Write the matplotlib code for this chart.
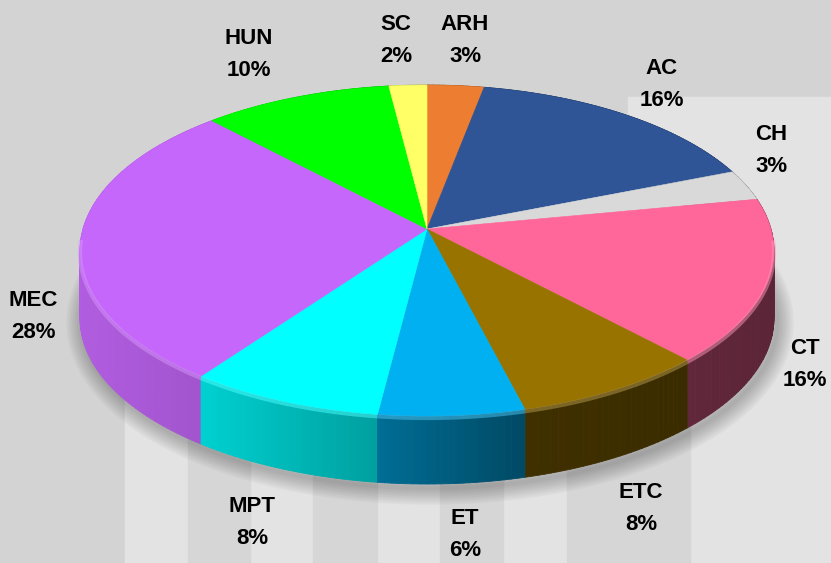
import numpy as np
import matplotlib
matplotlib.use("Agg")
import matplotlib.pyplot as plt
from matplotlib.patches import Polygon, Rectangle
from matplotlib.collections import PolyCollection
from matplotlib.colors import to_rgb

# data (clockwise from 12 o'clock)
labels = ["ARH", "AC", "CH", "CT", "ETC", "ET", "MPT", "MEC", "HUN", "SC"]
shares = [3, 16, 3, 16, 8, 6, 8, 28, 10, 2]
colors = ["#ed7d31", "#2f5597", "#d9d9d9", "#ff6699", "#997300",
          "#00b0f0", "#00ffff", "#c567fa", "#00ff00", "#ffff66"]

# where excel put the data labels (centre of the name line, pixels)
label_pos = [(465, 24), (662, 69), (771, 135), (805, 349), (641, 492),
             (465, 519), (252, 506), (33, 300), (249, 39), (396, 24)]

# perspective pie geometry (pixels)
CX, CY = 427, 229
A, B, K = 344, 162.7, 0.13
DEPTH = 68


def project(theta, dz=0.0):
    t = np.radians(theta)
    u, v = np.sin(t), np.cos(t)
    den = 1 + K * v
    return CX + A * u / den, CY - B * v / den + dz


fig = plt.figure(figsize=(8.31, 5.63), dpi=100)
ax = fig.add_axes([0, 0, 1, 1])
ax.set_xlim(0, 831)
ax.set_ylim(563, 0)
ax.axis("off")

# background picture: grey with lighter panels / stripes
ax.add_patch(Rectangle((0, 0), 831, 563, color="#d3d3d3", zorder=0))
ax.add_patch(Rectangle((628, 97), 203, 466, color="#e3e3e3", zorder=0))
for x0, x1 in [(125, 188), (250, 313), (377, 440), (503, 567)]:
    ax.add_patch(Rectangle((x0, 390), x1 - x0, 173, color="#e3e3e3", zorder=0))
for x0, x1 in [(188, 250), (313, 377), (440, 503), (567, 690)]:
    ax.add_patch(Rectangle((x0, 390), x1 - x0, 173, color="#d6d6d6", zorder=0))

# soft shadow under the pie
ring = np.linspace(0, 360, 361)
sx, sy = project(ring, DEPTH + 4)
for w in range(24, 0, -3):
    ax.add_patch(Polygon(np.column_stack([sx + 3, sy]), closed=True, facecolor="none",
                         edgecolor="black", lw=w, alpha=0.03, joinstyle="round", zorder=1))

# wedge angles
fracs = np.array(shares) / sum(shares)
ends = np.cumsum(fracs) * 360
starts = ends - fracs * 360

# side wall, thin strips shaded left (light) to right (dark)
strips, strip_cols, strip_depth = [], [], []
for s, e, c in zip(starts, ends, colors):
    n = max(int(e - s), 2)
    th = np.linspace(s, e, n + 1)
    xt, yt = project(th)
    xb, yb = project(th, DEPTH)
    base = np.array(to_rgb(c))
    for i in range(n):
        quad = [(xt[i], yt[i]), (xt[i + 1], yt[i + 1]), (xb[i + 1], yb[i + 1]), (xb[i], yb[i])]
        xm = (xt[i] + xt[i + 1]) / 2
        f = np.interp(xm, [80, 200, 380, 520, 775], [0.9, 0.82, 0.62, 0.42, 0.36])
        strips.append(quad)
        strip_cols.append(base * f)
        strip_depth.append(np.cos(np.radians((th[i] + th[i + 1]) / 2)))
order = np.argsort(strip_depth)[::-1]
side = PolyCollection([strips[i] for i in order], facecolors=[strip_cols[i] for i in order],
                      edgecolors=[strip_cols[i] for i in order], linewidths=0.6, zorder=2)
ax.add_collection(side)

# top faces
for s, e, c in zip(starts, ends, colors):
    th = np.linspace(s, e, max(int((e - s) * 2), 4))
    xt, yt = project(th)
    pts = np.column_stack([np.r_[CX, xt], np.r_[CY, yt]])
    ax.add_patch(Polygon(pts, closed=True, facecolor=c, edgecolor=c, lw=0.4, zorder=3))
    # light bevel along the front rim
    front = np.cos(np.radians(th)) < -0.05
    if front.any():
        hl = np.array(to_rgb(c)) * 0.7 + 0.3
        ax.plot(xt[front], yt[front] + 2, color=hl, lw=3, alpha=0.5,
                solid_capstyle="butt", zorder=4)

# data labels
font = ["Liberation Sans", "DejaVu Sans"]
for name, val, (lx, ly) in zip(labels, shares, label_pos):
    ax.text(lx, ly, name, ha="center", va="center", fontsize=16,
            fontweight="bold", family=font, color="black", zorder=5)
    ax.text(lx, ly + 32, f"{val}%", ha="center", va="center", fontsize=16,
            fontweight="bold", family=font, color="black", zorder=5)

fig.savefig("out.png", dpi=100)
